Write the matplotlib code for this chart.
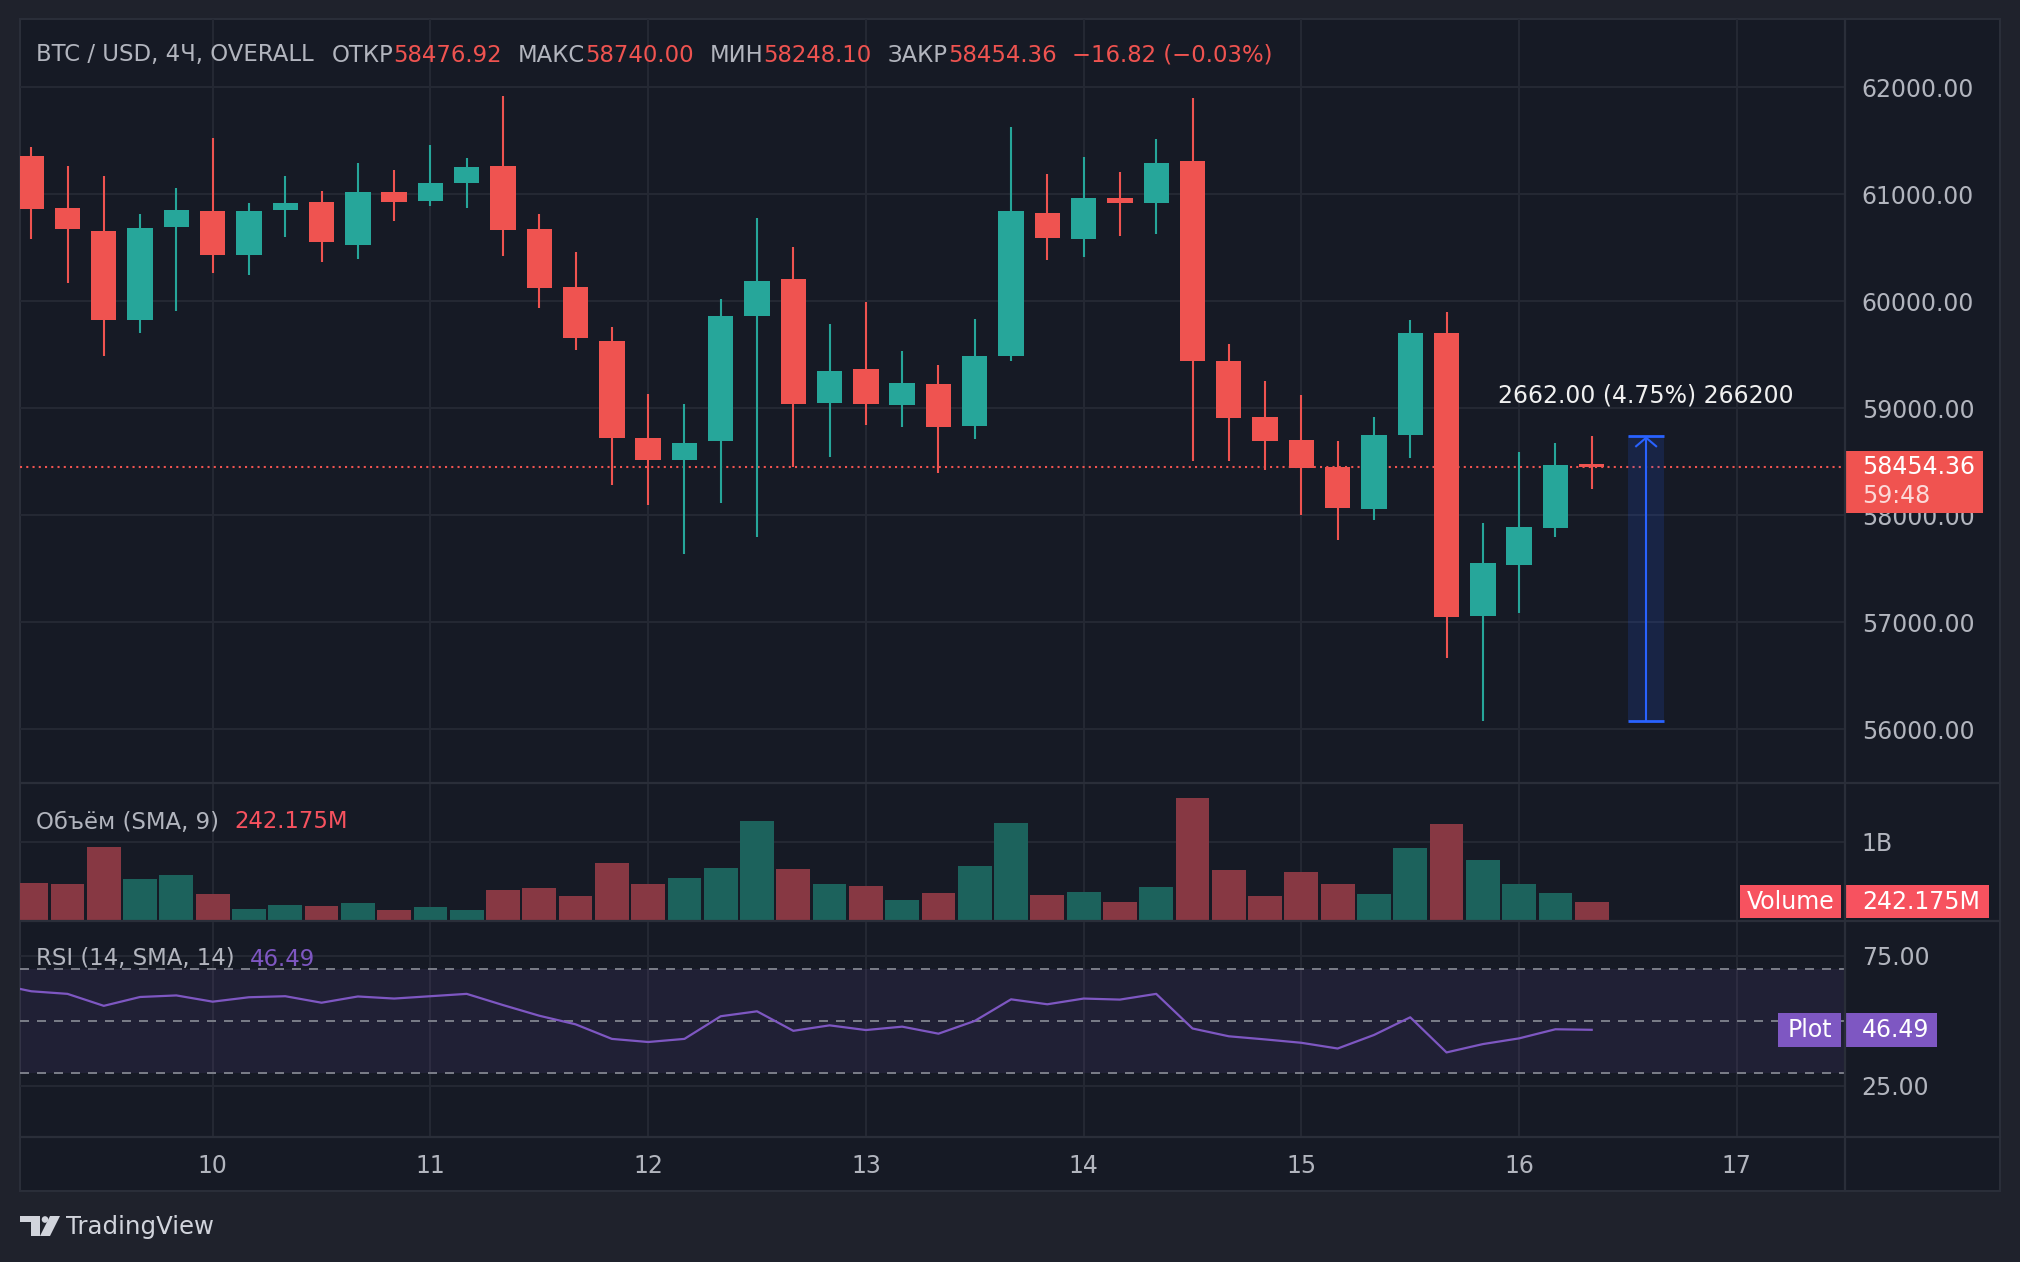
import matplotlib
matplotlib.use("Agg")
import matplotlib.pyplot as plt
from matplotlib.patches import Rectangle, Polygon, Circle
from matplotlib.lines import Line2D
from matplotlib.transforms import Affine2D, blended_transform_factory

# ---- data: BTC / USD, 4h bars ----
opens = [61361, 60875, 60660, 59822, 60692, 60847, 60430, 60850, 60931, 60523,
         61025, 60935, 61103, 61268, 60679, 60137, 59633, 58717, 58514, 58692,
         59860, 60212, 59047, 59371, 59028, 59231, 58832, 59486, 60829, 60579,
         60969, 60916, 61315, 59446, 58922, 58707, 58446, 58053, 58748, 59707,
         57056, 57533, 57879, 58476.92]
highs = [61445, 61268, 61174, 60813, 61062, 61530, 60922, 61174, 61034, 61296,
         61230, 61464, 61343, 61916, 60819, 60464, 59763, 59137, 59044, 60025,
         60782, 60511, 59791, 59997, 59539, 59408, 59838, 61632, 61193, 61352,
         61212, 61520, 61904, 59604, 59259, 59119, 58689, 58922, 59829, 59903,
         57922, 58595, 58679, 58740.00]
lows = [60579, 60168, 59492, 59701, 59907, 60262, 60243, 60598, 60365, 60393,
        60748, 60888, 60869, 60421, 59935, 59542, 58281, 58094, 57636, 58112,
        57795, 58449, 58542, 58841, 58823, 58393, 58710, 59439, 60383, 60411,
        60608, 60626, 58505, 58505, 58421, 58000, 57771, 57953, 58533, 56664,
        56075, 57084, 57795, 58248.10]
closes = [60860, 60673, 59822, 60689, 60857, 60430, 60847, 60922, 60551, 61025,
          60925, 61109, 61259, 60664, 60122, 59654, 58720, 58514, 58679, 59866,
          60193, 59038, 59352, 59038, 59240, 58823, 59492, 60847, 60589, 60969,
          60916, 61296, 59439, 58907, 58692, 58439, 58066, 58745, 59707, 57047,
          57548, 57885, 58471.18, 58454.36]
volumes = [0.476e9, 0.464e9, 0.927e9, 0.528e9, 0.579e9, 0.335e9, 0.155e9, 0.206e9, 0.193e9, 0.232e9,
           0.142e9, 0.180e9, 0.142e9, 0.386e9, 0.412e9, 0.309e9, 0.734e9, 0.464e9, 0.541e9, 0.670e9,
           1.262e9, 0.657e9, 0.464e9, 0.438e9, 0.270e9, 0.348e9, 0.695e9, 1.236e9, 0.322e9, 0.361e9,
           0.245e9, 0.425e9, 1.545e9, 0.644e9, 0.309e9, 0.618e9, 0.464e9, 0.335e9, 0.914e9, 1.223e9,
           0.773e9, 0.464e9, 0.348e9, 242.175e6]
# first value belongs to the bar just left of the visible range
rsi_values = [64.2, 61.3, 60.3, 55.7, 59.1, 59.7, 57.3, 59.0, 59.4, 56.9, 59.3,
              58.5, 59.4, 60.3, 56.0, 51.9, 48.6, 43.0, 41.8, 43.0, 51.7,
              53.6, 46.1, 48.2, 46.4, 47.7, 45.0, 49.9, 58.2, 56.3, 58.5,
              58.1, 60.3, 47.0, 44.0, 42.8, 41.5, 39.3, 44.5, 51.3, 37.8,
              41.0, 43.2, 46.7, 46.49]
day_ticks = [10, 11, 12, 13, 14, 15, 16, 17]
price_ticks = [56000, 57000, 58000, 59000, 60000, 61000, 62000]
first_bar_day = 9
first_bar_hour = 4
bar_hours = 4
measure_low = 56076.0
measure_high = 58738.0
measure_bars = (44, 45)
measure_volume = 266200
timer_text = "59:48"
symbol_text = "BTC / USD, 4Ч, OVERALL"

# ---- colours ----
OUTER = "#1f222c"
BG = "#161a25"
LINE = "#2a2e39"
GRID = "#242833"
TXT = "#b2b5be"
RED = "#ef5350"
GREEN = "#26a69a"
VRED = "#873843"
VGREEN = "#1c625c"
PURPLE = "#7e57c2"
BLUE = "#2962ff"

plt.rcParams["font.family"] = ["DejaVu Sans"]
FS = 17
HFS = 16.4

W, H = 2020, 1262
LEFT, PANE_R, RIGHT = 20, 1845, 2000
TOP, MAIN_B, VOL_B, RSI_B, TIME_B = 19, 783, 921, 1137, 1191

fig = plt.figure(figsize=(W / 100, H / 100), dpi=100, facecolor=OUTER)
pix = Affine2D().scale(1.0 / W, -1.0 / H).translate(0, 1) + fig.transFigure


def box(y0, y1):
    return [LEFT / W, 1 - y1 / H, (PANE_R - LEFT) / W, (y1 - y0) / H]


def axfrac(px):
    return (px - LEFT) / (PANE_R - LEFT)


fig.patches.append(Rectangle((LEFT, TOP), RIGHT - LEFT, TIME_B - TOP, transform=pix,
                             facecolor=BG, edgecolor=LINE, linewidth=1.5, zorder=-5))

ax = fig.add_axes(box(TOP, MAIN_B))
axv = fig.add_axes(box(MAIN_B, VOL_B), sharex=ax)
axr = fig.add_axes(box(VOL_B, RSI_B), sharex=ax)
axt = fig.add_axes(box(RSI_B, TIME_B), sharex=ax)

bar_step = bar_hours / 24
x0 = first_bar_day + first_bar_hour / 24
xs = [x0 + i * bar_step for i in range(len(opens))]
xlim = (x0 - 0.309 * bar_step, x0 + 49.98 * bar_step)

for a in (ax, axv, axr, axt):
    a.set_facecolor("none")
    for s in a.spines.values():
        s.set_visible(False)
    a.set_xlim(xlim)
    a.set_xticks(day_ticks)
    a.tick_params(axis="x", length=0, labelbottom=False)
    a.yaxis.tick_right()
    a.tick_params(axis="y", length=0, pad=12, labelsize=FS, labelcolor=TXT)
for a in (ax, axv, axr):
    a.grid(True, color=GRID, linewidth=1.5)
    a.set_axisbelow(True)
axt.set_yticks([])


def px_w(a, n):
    lo, hi = a.get_xlim()
    return n * (hi - lo) / a.bbox.width


def px_h(a, n):
    lo, hi = a.get_ylim()
    return n * (hi - lo) / a.bbox.height


# ---- main pane ----
ax.set_ylim(55495, 62640)
ax.set_yticks(price_ticks)
ax.set_yticklabels([f"{v:.2f}" for v in price_ticks])
colors = [GREEN if c >= o else RED for o, c in zip(opens, closes)]
ax.vlines(xs, lows, highs, colors=colors, linewidth=1.5, zorder=3)
ax.bar(xs, [abs(c - o) for o, c in zip(opens, closes)],
       bottom=[min(o, c) for o, c in zip(opens, closes)],
       width=0.70 * bar_step, color=colors, linewidth=0, zorder=4)
last = closes[-1]
ax.axhline(last, color=RED, linewidth=1.5, linestyle=(0, (1, 2)), zorder=2)

# measurement
mx0 = x0 + measure_bars[0] * bar_step
mx1 = x0 + measure_bars[1] * bar_step
ax.add_patch(Rectangle((mx0, measure_low), mx1 - mx0, measure_high - measure_low,
                       facecolor=BLUE, alpha=0.15, linewidth=0, zorder=2))
ax.hlines([measure_low, measure_high], mx0, mx1, colors=BLUE, linewidth=2, zorder=3)
mc = (mx0 + mx1) / 2
ax.vlines(mc, measure_low, measure_high, colors=BLUE, linewidth=1.5, zorder=3)
ax.plot([mc - px_w(ax, 10), mc, mc + px_w(ax, 10)],
        [measure_high - px_h(ax, 10), measure_high - px_h(ax, 1.5), measure_high - px_h(ax, 10)],
        color=BLUE, linewidth=1.5, zorder=3)
diff = measure_high - measure_low
ax.text(mc, measure_high + px_h(ax, 34),
        f"{diff:.2f} ({diff / measure_low * 100:.2f}%) {measure_volume}",
        color="#f0f0f0", fontsize=FS, ha="center", va="baseline", zorder=6)

# last price label
tr = blended_transform_factory(ax.transAxes, ax.transData)
ax.add_patch(Rectangle((axfrac(1844), last - px_h(ax, 46)), axfrac(1983) - axfrac(1844),
                       px_h(ax, 62), transform=tr, facecolor="#f05350", linewidth=0,
                       clip_on=False, zorder=8))
ax.text(axfrac(1862), last, f"{last:.2f}", transform=tr, color="white", fontsize=FS,
        va="center", ha="left", zorder=9, clip_on=False)
ax.text(axfrac(1862), last - px_h(ax, 29), timer_text, transform=tr, color="#fcd9d8",
        fontsize=FS, va="center", ha="left", zorder=9, clip_on=False)

# ---- volume pane ----
axv.set_ylim(0, 1.737e9)
axv.set_yticks([1e9])
axv.set_yticklabels(["1B"])
vcolors = [VGREEN if c >= o else VRED for o, c in zip(opens, closes)]
axv.bar(xs, volumes, width=0.93 * bar_step, color=vcolors, linewidth=0, zorder=3)
trv = blended_transform_factory(axv.transAxes, axv.transData)
vlast = volumes[-1]
hv = px_h(axv, 33)
axv.add_patch(Rectangle((axfrac(1740), vlast - hv / 2), axfrac(1841) - axfrac(1740), hv,
                        transform=trv, facecolor="#f7525f", linewidth=0, clip_on=False, zorder=8))
axv.add_patch(Rectangle((axfrac(1845), vlast - hv / 2), axfrac(1989) - axfrac(1845), hv,
                        transform=trv, facecolor="#f7525f", linewidth=0, clip_on=False, zorder=8))
axv.text(axfrac(1790.5), vlast, "Volume", transform=trv, color="white", fontsize=FS,
         ha="center", va="center", zorder=9, clip_on=False)
axv.text(axfrac(1862), vlast, f"{vlast / 1e6:.3f}M", transform=trv, color="white",
         fontsize=FS, ha="left", va="center", zorder=9, clip_on=False)

# ---- RSI pane ----
axr.set_ylim(5.3, 88.3)
axr.set_yticks([25, 75])
axr.set_yticklabels(["25.00", "75.00"])
axr.axhspan(30, 70, color=PURPLE, alpha=0.1, linewidth=0, zorder=1)
for lvl in (30, 50, 70):
    axr.axhline(lvl, color="#787b86", linewidth=1.44, linestyle=(0, (4.5, 4)), zorder=2)
rsi_x = [x0 + (i - 1) * bar_step for i in range(len(rsi_values))]
axr.plot(rsi_x, rsi_values, color=PURPLE, linewidth=1.6, zorder=4)
trr = blended_transform_factory(axr.transAxes, axr.transData)
rlast = rsi_values[-1]
hr = px_h(axr, 34)
axr.add_patch(Rectangle((axfrac(1778), rlast - hr / 2), axfrac(1841) - axfrac(1778), hr,
                        transform=trr, facecolor=PURPLE, linewidth=0, clip_on=False, zorder=8))
axr.add_patch(Rectangle((axfrac(1845), rlast - hr / 2), axfrac(1937) - axfrac(1845), hr,
                        transform=trr, facecolor=PURPLE, linewidth=0, clip_on=False, zorder=8))
axr.text(axfrac(1810), rlast, "Plot", transform=trr, color="white", fontsize=FS,
         ha="center", va="center", zorder=9, clip_on=False)
axr.text(axfrac(1862), rlast, f"{rlast:.2f}", transform=trr, color="white", fontsize=FS,
         ha="left", va="center", zorder=9, clip_on=False)

# ---- time axis ----
trt = blended_transform_factory(axt.transData, axt.transAxes)
for d in day_ticks:
    axt.text(d, 0.46, str(d), transform=trt, color=TXT, fontsize=FS,
             ha="center", va="center")

# ---- separators ----
for y in (MAIN_B, VOL_B, RSI_B):
    fig.lines.append(Line2D([LEFT, RIGHT], [y, y], transform=pix, color=LINE, linewidth=1.6))
fig.lines.append(Line2D([PANE_R, PANE_R], [TOP, TIME_B], transform=pix, color=LINE, linewidth=1.6))


# ---- legend texts ----
def draw_parts(x, y, parts, size=HFS):
    r = fig.canvas.get_renderer()
    for text, color, gap in parts:
        t = fig.text(x, y, text, color=color, fontsize=size, transform=pix,
                     va="center", ha="left", zorder=6)
        x += t.get_window_extent(r).width + gap


prev_close = closes[-2]
chg = last - prev_close
chg_txt = f"{chg:.2f} ({chg / prev_close * 100:.2f}%)".replace("-", "\u2212")
draw_parts(36, 55, [
    (symbol_text, TXT, 18),
    ("ОТКР", TXT, 0), (f"{opens[-1]:.2f}", RED, 16),
    ("МАКС", TXT, 0), (f"{highs[-1]:.2f}", RED, 16),
    ("МИН", TXT, 0), (f"{lows[-1]:.2f}", RED, 16),
    ("ЗАКР", TXT, 0), (f"{last:.2f}", RED, 16),
    (chg_txt, RED, 0),
])
draw_parts(36, 822, [("Объём (SMA, 9)", TXT, 15), (f"{vlast / 1e6:.3f}M", "#f7525f", 0)])
draw_parts(36, 959, [("RSI (14, SMA, 14)", TXT, 15), (f"{rlast:.2f}", PURPLE, 0)])

# ---- TradingView logo ----
LOGO = "#d1d4dc"
fig.patches.append(Polygon([(20, 1216), (40, 1216), (40, 1236), (31, 1236), (31, 1222), (20, 1222)],
                           closed=True, transform=pix, facecolor=LOGO, linewidth=0))
fig.patches.append(Circle((45, 1219.5), 3.3, transform=pix, facecolor=LOGO, linewidth=0))
fig.patches.append(Polygon([(50, 1216), (60, 1216), (50, 1236), (40, 1236)],
                           closed=True, transform=pix, facecolor=LOGO, linewidth=0))
fig.text(66, 1227, "TradingView", transform=pix, color=LOGO, fontsize=17.6,
         va="center", ha="left")

fig.savefig("out.png", dpi=100, facecolor=OUTER)
